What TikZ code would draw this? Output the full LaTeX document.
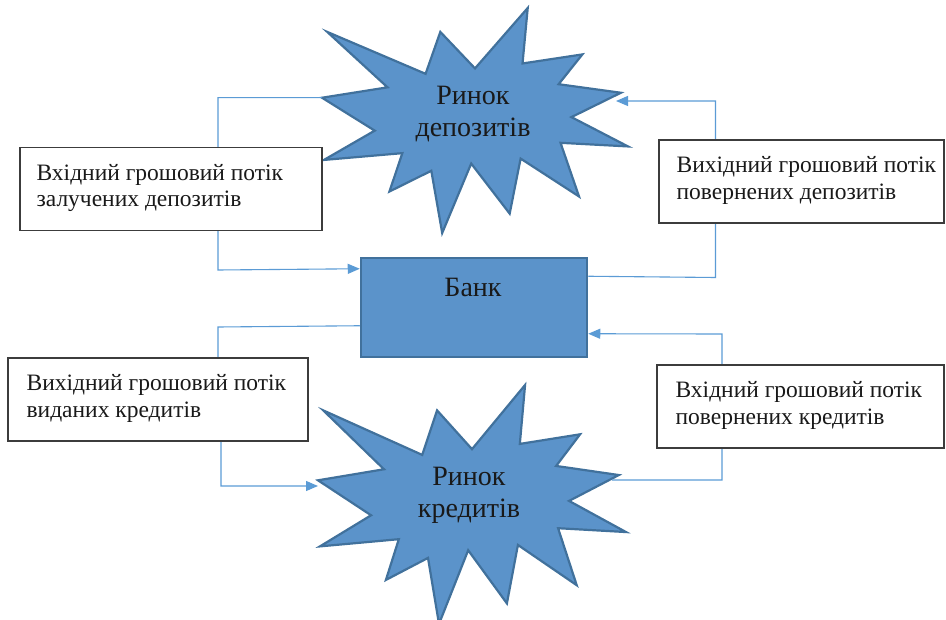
\documentclass[tikz,border=0pt]{standalone}
\usepackage{fontspec}
\setmainfont{Liberation Serif}
\usetikzlibrary{arrows.meta,calc}
\definecolor{fillblue}{RGB}{91,147,202}
\definecolor{edgeblue}{RGB}{65,113,156}
\definecolor{lineblue}{RGB}{91,155,213}
\definecolor{boxedge}{RGB}{60,60,60}
\definecolor{txt}{RGB}{25,25,25}
\newcommand\sealshape[4]{%
  \begin{scope}[shift={(#1,#2)}, x=#3pt, y=-#4pt]
    \filldraw[fill=fillblue, draw=edgeblue, line width=2.2pt, line join=miter, miter limit=20]
      (0.5,0.2685) -- (0.6723,0) -- (0.6553,0.2465) -- (0.8509,0.2063) -- (0.7732,0.3387)
      -- (0.9767,0.3767) -- (0.8151,0.4850) -- (1,0.6153) -- (0.7795,0.5992) -- (0.8400,0.8377)
      -- (0.6491,0.6693) -- (0.6133,0.9138) -- (0.4876,0.6914) -- (0.3928,1) -- (0.3572,0.7235)
      -- (0.2205,0.8156) -- (0.2624,0.6452) -- (0.0063,0.6753) -- (0.1723,0.5451) -- (0,0.3988)
      -- (0.2142,0.3526) -- (0.0171,0.1063) -- (0.3385,0.2926) -- (0.3867,0.1063) -- cycle;
  \end{scope}}
\begin{document}
\begin{tikzpicture}[x=1pt,y=-1pt,
  conn/.style={draw=lineblue, line width=1.1pt},
  arr/.style={-{Triangle[length=12pt,width=10pt]}},
  flowbox/.style={draw=boxedge, line width=1.2pt, fill=white, minimum height=83pt, inner sep=0pt},
  boxtext/.style={anchor=west, align=left, inner sep=0pt,
    font=\fontsize{23.5}{26.5}\selectfont, text=txt},
  startext/.style={align=center, font=\fontsize{28}{32}\selectfont, text=txt, inner sep=0pt},
  bankbox/.style={draw=edgeblue, fill=fillblue, line width=2.5pt}
]
\useasboundingbox (0,0) rectangle (946,620);

% markets (drawn shapes)
\sealshape{322}{8}{306}{225}
\sealshape{318}{385}{308}{239}
\node[startext] (tstar) at (473,114) {Ринок\\депозитів};
\node[startext] (bstar) at (469,495) {Ринок\\кредитів};

\coordinate (tstarL) at (322,97.7);
\coordinate (tstarR) at (616,101);
\coordinate (bstarL) at (318,486);
\coordinate (bstarR) at (612,480);

% bank (position reference)
\node[bankbox, minimum width=226pt, minimum height=99pt] (bank) at (474,307.5) {};

% connectors
\draw[conn,arr] (tstarL) -- (218,97.7) -- (218,270) -- ($(bank.north west)+(0,12)$);
\draw[conn,arr] ($(bank.north east)+(0,19.5)$) -- (715.5,277.5) -- (715.5,101) -- (tstarR);
\draw[conn,arr] ($(bank.north west)+(0,69)$) -- (218,327) -- (218,400) -- (221,400) -- (221,486) -- (bstarL);
\draw[conn,arr] (bstarR) -- (722,480) -- (722,334) -- ($(bank.north east)+(0,77)$);

% flow boxes
\node[flowbox, minimum width=302pt] (b1) at (171,189) {};
\node[boxtext] (t1) at ($(b1.west)+(17,-1)$) {Вхідний грошовий потік\\залучених депозитів};
\node[flowbox, minimum width=285pt] (b2) at (801.5,181.5) {};
\node[boxtext] (t2) at ($(b2.west)+(18,-1)$) {Вихідний грошовий потік\\повернених депозитів};
\node[flowbox, minimum width=300pt] (b3) at (158,399.5) {};
\node[boxtext] (t3) at ($(b3.west)+(19,-1)$) {Вихідний грошовий потік\\виданих кредитів};
\node[flowbox, minimum width=287pt] (b4) at (800.5,406.5) {};
\node[boxtext] (t4) at ($(b4.west)+(19,-1)$) {Вхідний грошовий потік\\повернених кредитів};

% bank drawn over arrow tips
\node[bankbox, minimum width=226pt, minimum height=99pt] (bankfront) at (bank) {};
\node[font=\fontsize{28}{32}\selectfont, text=txt, anchor=base, inner sep=0pt] (banktxt) at (473,297) {Банк};
\end{tikzpicture}
\end{document}
